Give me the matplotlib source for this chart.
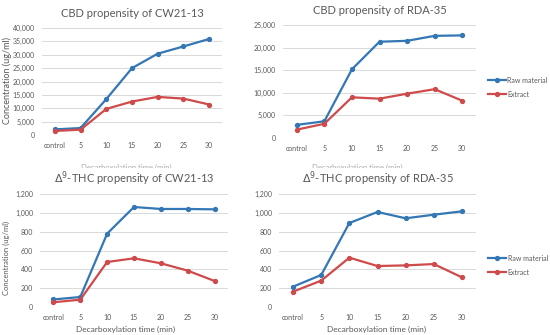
import matplotlib.pyplot as plt
from matplotlib.transforms import Bbox, TransformedBbox

plt.rcParams['font.family'] = ['Lato', 'DejaVu Sans']

times = ["control", "5", "10", "15", "20", "25", "30"]

cbd_cw_raw = [2100, 2600, 13400, 25000, 30400, 33100, 35900]
cbd_cw_ext = [1500, 2000, 9750, 12500, 14250, 13600, 11400]
cbd_rda_raw = [2900, 3700, 15200, 21300, 21500, 22600, 22700]
cbd_rda_ext = [1850, 3150, 9000, 8700, 9800, 10800, 8250]
thc_cw_raw = [80, 106, 779, 1062, 1041, 1041, 1037]
thc_cw_ext = [50, 78, 478, 517, 464, 386, 276]
thc_rda_raw = [216, 340, 892, 1009, 942, 980, 1016]
thc_rda_ext = [163, 280, 524, 435, 442, 456, 315]

BLUE = "#3377B5"
RED = "#CF4A4A"
GREY = "#595959"

W, H = 550, 335
fig = plt.figure(figsize=(5.5, 3.35), dpi=100)


def px_axes(x0, x1, y0, y1):
    return fig.add_axes([x0 / W, 1 - y1 / H, (x1 - x0) / W, (y1 - y0) / H])


def panel(ax, raw, ext, title, ymax, step, legend_y=None):
    x = range(len(times))
    l1, = ax.plot(x, raw, color=BLUE, lw=1.6, marker="o", ms=2.8, label="Raw material")
    l2, = ax.plot(x, ext, color=RED, lw=1.6, marker="o", ms=2.8, label="Extract")
    ax.set_xlim(-0.5, len(times) - 0.5)
    ax.set_ylim(0, ymax)
    ax.set_yticks(range(0, ymax + 1, step))
    ax.set_yticklabels([f"{v:,}" for v in range(0, ymax + 1, step)])
    ax.set_xticks(list(x))
    ax.set_xticklabels(times)
    ax.grid(axis="y", color="#D9D9D9", lw=0.7)
    ax.set_axisbelow(True)
    for s in ax.spines.values():
        s.set_visible(False)
    ax.tick_params(length=0, labelsize=5, colors=GREY, pad=5)
    ax.set_title(title, fontsize=8, color=GREY, pad=8)
    if legend_y is not None:
        ax.legend(handles=[l1, l2], loc="center left", bbox_to_anchor=(1.03, legend_y),
                  frameon=False, fontsize=5, labelcolor=GREY, handlelength=2.6,
                  handletextpad=0.2, labelspacing=1.0)


ax1 = px_axes(42, 222, 28, 135)
panel(ax1, cbd_cw_raw, cbd_cw_ext, "CBD propensity of CW21-13", 40000, 5000)
ax2 = px_axes(283, 476, 25, 138)
panel(ax2, cbd_rda_raw, cbd_rda_ext, "CBD propensity of RDA-35", 25000, 5000, 0.45)
ax3 = px_axes(40, 228, 194, 307)
panel(ax3, thc_cw_raw, thc_cw_ext, "$\\Delta^9$-THC propensity of CW21-13", 1200, 200)
ax4 = px_axes(279, 476, 194, 307)
panel(ax4, thc_rda_raw, thc_rda_ext, "$\\Delta^9$-THC propensity of RDA-35", 1200, 200, 0.37)

fig.text(7 / W, 1 - 81 / H, "Concentration (ug/ml)", rotation=90, ha="center",
         va="center", fontsize=6.5, color=GREY)
fig.text(6 / W, 1 - 258 / H, "Concentration (ug/ml)", rotation=90, ha="center",
         va="center", fontsize=5.5, color=GREY)

# bottom x labels
for xc in (126, 377):
    fig.text(xc / W, 1 - 329 / H, "Decarboxylation time (min)", ha="center",
             va="center", fontsize=6, color=GREY)

# top-row x labels, cut off at the row boundary
clip = TransformedBbox(Bbox([[0, 1 - 167.5 / H], [1, 1]]), fig.transFigure)
for xc in (126, 357):
    t = fig.text(xc / W, 1 - 167 / H, "Decarboxylation time (min)", ha="center",
                 va="center", fontsize=5.5, color="#ABABAB")
    t.set_clip_box(clip)
    t.set_clip_on(True)

fig.savefig("out.png", dpi=100)
